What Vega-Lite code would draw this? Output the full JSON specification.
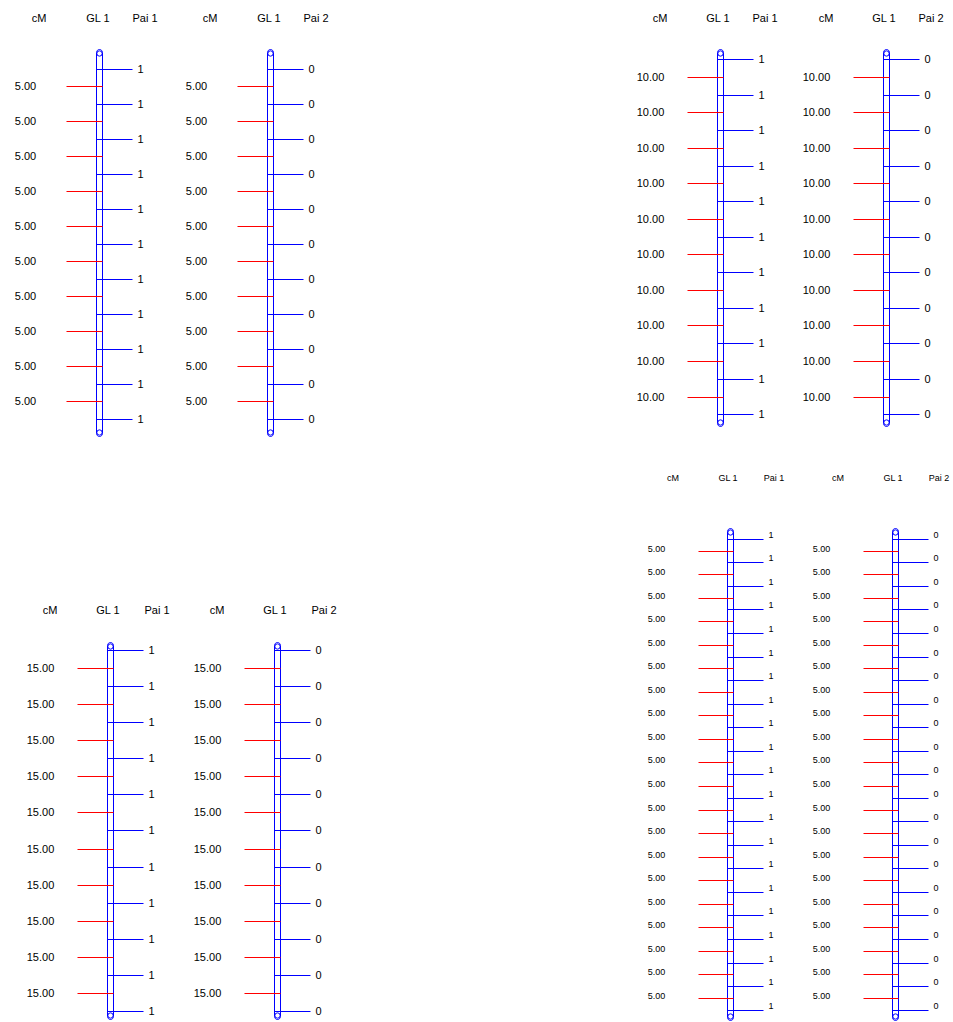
{
  "$schema": "https://vega.github.io/schema/vega-lite/v6.json",
  "background": "white",
  "padding": {"left": 0.5, "top": 12.5, "right": 0, "bottom": 0},
  "datasets": {
    "markers": [
      {"panel": "A", "pos": 0, "pai1": "1", "pai2": "0"},
      {"panel": "A", "pos": 5, "pai1": "1", "pai2": "0"},
      {"panel": "A", "pos": 10, "pai1": "1", "pai2": "0"},
      {"panel": "A", "pos": 15, "pai1": "1", "pai2": "0"},
      {"panel": "A", "pos": 20, "pai1": "1", "pai2": "0"},
      {"panel": "A", "pos": 25, "pai1": "1", "pai2": "0"},
      {"panel": "A", "pos": 30, "pai1": "1", "pai2": "0"},
      {"panel": "A", "pos": 35, "pai1": "1", "pai2": "0"},
      {"panel": "A", "pos": 40, "pai1": "1", "pai2": "0"},
      {"panel": "A", "pos": 45, "pai1": "1", "pai2": "0"},
      {"panel": "A", "pos": 50, "pai1": "1", "pai2": "0"},
      {"panel": "B", "pos": 0, "pai1": "1", "pai2": "0"},
      {"panel": "B", "pos": 10, "pai1": "1", "pai2": "0"},
      {"panel": "B", "pos": 20, "pai1": "1", "pai2": "0"},
      {"panel": "B", "pos": 30, "pai1": "1", "pai2": "0"},
      {"panel": "B", "pos": 40, "pai1": "1", "pai2": "0"},
      {"panel": "B", "pos": 50, "pai1": "1", "pai2": "0"},
      {"panel": "B", "pos": 60, "pai1": "1", "pai2": "0"},
      {"panel": "B", "pos": 70, "pai1": "1", "pai2": "0"},
      {"panel": "B", "pos": 80, "pai1": "1", "pai2": "0"},
      {"panel": "B", "pos": 90, "pai1": "1", "pai2": "0"},
      {"panel": "B", "pos": 100, "pai1": "1", "pai2": "0"},
      {"panel": "C", "pos": 0, "pai1": "1", "pai2": "0"},
      {"panel": "C", "pos": 15, "pai1": "1", "pai2": "0"},
      {"panel": "C", "pos": 30, "pai1": "1", "pai2": "0"},
      {"panel": "C", "pos": 45, "pai1": "1", "pai2": "0"},
      {"panel": "C", "pos": 60, "pai1": "1", "pai2": "0"},
      {"panel": "C", "pos": 75, "pai1": "1", "pai2": "0"},
      {"panel": "C", "pos": 90, "pai1": "1", "pai2": "0"},
      {"panel": "C", "pos": 105, "pai1": "1", "pai2": "0"},
      {"panel": "C", "pos": 120, "pai1": "1", "pai2": "0"},
      {"panel": "C", "pos": 135, "pai1": "1", "pai2": "0"},
      {"panel": "C", "pos": 150, "pai1": "1", "pai2": "0"},
      {"panel": "D", "pos": 0, "pai1": "1", "pai2": "0"},
      {"panel": "D", "pos": 5, "pai1": "1", "pai2": "0"},
      {"panel": "D", "pos": 10, "pai1": "1", "pai2": "0"},
      {"panel": "D", "pos": 15, "pai1": "1", "pai2": "0"},
      {"panel": "D", "pos": 20, "pai1": "1", "pai2": "0"},
      {"panel": "D", "pos": 25, "pai1": "1", "pai2": "0"},
      {"panel": "D", "pos": 30, "pai1": "1", "pai2": "0"},
      {"panel": "D", "pos": 35, "pai1": "1", "pai2": "0"},
      {"panel": "D", "pos": 40, "pai1": "1", "pai2": "0"},
      {"panel": "D", "pos": 45, "pai1": "1", "pai2": "0"},
      {"panel": "D", "pos": 50, "pai1": "1", "pai2": "0"},
      {"panel": "D", "pos": 55, "pai1": "1", "pai2": "0"},
      {"panel": "D", "pos": 60, "pai1": "1", "pai2": "0"},
      {"panel": "D", "pos": 65, "pai1": "1", "pai2": "0"},
      {"panel": "D", "pos": 70, "pai1": "1", "pai2": "0"},
      {"panel": "D", "pos": 75, "pai1": "1", "pai2": "0"},
      {"panel": "D", "pos": 80, "pai1": "1", "pai2": "0"},
      {"panel": "D", "pos": 85, "pai1": "1", "pai2": "0"},
      {"panel": "D", "pos": 90, "pai1": "1", "pai2": "0"},
      {"panel": "D", "pos": 95, "pai1": "1", "pai2": "0"},
      {"panel": "D", "pos": 100, "pai1": "1", "pai2": "0"}
    ],
    "intervals": [
      {"panel": "A", "at": 2.5, "length": 5},
      {"panel": "A", "at": 7.5, "length": 5},
      {"panel": "A", "at": 12.5, "length": 5},
      {"panel": "A", "at": 17.5, "length": 5},
      {"panel": "A", "at": 22.5, "length": 5},
      {"panel": "A", "at": 27.5, "length": 5},
      {"panel": "A", "at": 32.5, "length": 5},
      {"panel": "A", "at": 37.5, "length": 5},
      {"panel": "A", "at": 42.5, "length": 5},
      {"panel": "A", "at": 47.5, "length": 5},
      {"panel": "B", "at": 5, "length": 10},
      {"panel": "B", "at": 15, "length": 10},
      {"panel": "B", "at": 25, "length": 10},
      {"panel": "B", "at": 35, "length": 10},
      {"panel": "B", "at": 45, "length": 10},
      {"panel": "B", "at": 55, "length": 10},
      {"panel": "B", "at": 65, "length": 10},
      {"panel": "B", "at": 75, "length": 10},
      {"panel": "B", "at": 85, "length": 10},
      {"panel": "B", "at": 95, "length": 10},
      {"panel": "C", "at": 7.5, "length": 15},
      {"panel": "C", "at": 22.5, "length": 15},
      {"panel": "C", "at": 37.5, "length": 15},
      {"panel": "C", "at": 52.5, "length": 15},
      {"panel": "C", "at": 67.5, "length": 15},
      {"panel": "C", "at": 82.5, "length": 15},
      {"panel": "C", "at": 97.5, "length": 15},
      {"panel": "C", "at": 112.5, "length": 15},
      {"panel": "C", "at": 127.5, "length": 15},
      {"panel": "C", "at": 142.5, "length": 15},
      {"panel": "D", "at": 2.5, "length": 5},
      {"panel": "D", "at": 7.5, "length": 5},
      {"panel": "D", "at": 12.5, "length": 5},
      {"panel": "D", "at": 17.5, "length": 5},
      {"panel": "D", "at": 22.5, "length": 5},
      {"panel": "D", "at": 27.5, "length": 5},
      {"panel": "D", "at": 32.5, "length": 5},
      {"panel": "D", "at": 37.5, "length": 5},
      {"panel": "D", "at": 42.5, "length": 5},
      {"panel": "D", "at": 47.5, "length": 5},
      {"panel": "D", "at": 52.5, "length": 5},
      {"panel": "D", "at": 57.5, "length": 5},
      {"panel": "D", "at": 62.5, "length": 5},
      {"panel": "D", "at": 67.5, "length": 5},
      {"panel": "D", "at": 72.5, "length": 5},
      {"panel": "D", "at": 77.5, "length": 5},
      {"panel": "D", "at": 82.5, "length": 5},
      {"panel": "D", "at": 87.5, "length": 5},
      {"panel": "D", "at": 92.5, "length": 5},
      {"panel": "D", "at": 97.5, "length": 5}
    ],
    "chromosomes": [
      {"panel": "A", "start": -2.85, "end": 52.43},
      {"panel": "B", "start": -2.81, "end": 103.3},
      {"panel": "C", "start": -3.3, "end": 153.3},
      {"panel": "D", "start": -2.3, "end": 102.2}
    ]
  },
  "spacing": 273,
  "hconcat": [
    {
      "spacing": 167,
      "vconcat": [
        {
          "bounds": "flush",
          "spacing": 23,
          "hconcat": [
            {
              "width": 159, "height": 387,
              "layer": [
                {"data": {"name": "chromosomes"}, "transform": [{"filter": "datum.panel == 'A'"}],
                 "mark": {"type": "rect", "filled": false, "color": "#0000ff", "strokeWidth": 1, "cornerRadius": 3},
                 "encoding": {
                   "x": {"datum": -3, "type": "quantitative", "scale": {"domain": [-99, 60], "nice": false, "zero": false, "round": true},
                         "axis": {"orient": "top", "values": [-61, -2, 45], "labelExpr": "datum.value < -30 ? 'cM' : datum.value < 20 ? 'GL 1' : 'Pai 1'", "labelPadding": 28, "labelFontSize": 11, "title": null}},
                   "x2": {"datum": 3},
                   "y": {"field": "start", "type": "quantitative", "scale": {"zero": false, "nice": false, "reverse": true, "round": true}, "axis": null},
                   "y2": {"field": "end"}}},
                {"data": {"name": "chromosomes"}, "transform": [{"filter": "datum.panel == 'A'"}],
                 "mark": {"type": "point", "shape": "circle", "filled": false, "size": 28, "color": "#0000ff", "strokeWidth": 1, "opacity": 1, "yOffset": 4},
                 "encoding": {"x": {"datum": 0, "type": "quantitative"}, "y": {"field": "start", "type": "quantitative", "axis": null}}},
                {"data": {"name": "chromosomes"}, "transform": [{"filter": "datum.panel == 'A'"}],
                 "mark": {"type": "point", "shape": "circle", "filled": false, "size": 28, "color": "#0000ff", "strokeWidth": 1, "opacity": 1, "yOffset": -4},
                 "encoding": {"x": {"datum": 0, "type": "quantitative"}, "y": {"field": "end", "type": "quantitative", "axis": null}}},
                {"data": {"name": "intervals"}, "transform": [{"filter": "datum.panel == 'A'"}],
                 "mark": {"type": "rule", "color": "#ff0000", "strokeWidth": 1},
                 "encoding": {"x": {"datum": -33, "type": "quantitative"}, "x2": {"datum": 3}, "y": {"field": "at", "type": "quantitative", "axis": null}}},
                {"data": {"name": "intervals"}, "transform": [{"filter": "datum.panel == 'A'"}],
                 "mark": {"type": "text", "align": "center", "baseline": "middle", "fontSize": 11},
                 "encoding": {"x": {"datum": -74, "type": "quantitative"}, "y": {"field": "at", "type": "quantitative", "axis": null}, "text": {"field": "length", "type": "quantitative", "format": ".2f"}}},
                {"data": {"name": "markers"}, "transform": [{"filter": "datum.panel == 'A'"}],
                 "mark": {"type": "rule", "color": "#0000ff", "strokeWidth": 1},
                 "encoding": {"x": {"datum": -3, "type": "quantitative"}, "x2": {"datum": 33}, "y": {"field": "pos", "type": "quantitative", "axis": null}}},
                {"data": {"name": "markers"}, "transform": [{"filter": "datum.panel == 'A'"}],
                 "mark": {"type": "text", "align": "left", "baseline": "middle", "fontSize": 11},
                 "encoding": {"x": {"datum": 38, "type": "quantitative"}, "y": {"field": "pos", "type": "quantitative", "axis": null}, "text": {"field": "pai1", "type": "nominal"}}}
              ]
            },
            {
              "width": 148, "height": 387,
              "layer": [
                {"data": {"name": "chromosomes"}, "transform": [{"filter": "datum.panel == 'A'"}],
                 "mark": {"type": "rect", "filled": false, "color": "#0000ff", "strokeWidth": 1, "cornerRadius": 3},
                 "encoding": {
                   "x": {"datum": -3, "type": "quantitative", "scale": {"domain": [-88, 60], "nice": false, "zero": false, "round": true},
                         "axis": {"orient": "top", "values": [-61, -2, 45], "labelExpr": "datum.value < -30 ? 'cM' : datum.value < 20 ? 'GL 1' : 'Pai 2'", "labelPadding": 28, "labelFontSize": 11, "title": null}},
                   "x2": {"datum": 3},
                   "y": {"field": "start", "type": "quantitative", "scale": {"zero": false, "nice": false, "reverse": true, "round": true}, "axis": null},
                   "y2": {"field": "end"}}},
                {"data": {"name": "chromosomes"}, "transform": [{"filter": "datum.panel == 'A'"}],
                 "mark": {"type": "point", "shape": "circle", "filled": false, "size": 28, "color": "#0000ff", "strokeWidth": 1, "opacity": 1, "yOffset": 4},
                 "encoding": {"x": {"datum": 0, "type": "quantitative"}, "y": {"field": "start", "type": "quantitative", "axis": null}}},
                {"data": {"name": "chromosomes"}, "transform": [{"filter": "datum.panel == 'A'"}],
                 "mark": {"type": "point", "shape": "circle", "filled": false, "size": 28, "color": "#0000ff", "strokeWidth": 1, "opacity": 1, "yOffset": -4},
                 "encoding": {"x": {"datum": 0, "type": "quantitative"}, "y": {"field": "end", "type": "quantitative", "axis": null}}},
                {"data": {"name": "intervals"}, "transform": [{"filter": "datum.panel == 'A'"}],
                 "mark": {"type": "rule", "color": "#ff0000", "strokeWidth": 1},
                 "encoding": {"x": {"datum": -33, "type": "quantitative"}, "x2": {"datum": 3}, "y": {"field": "at", "type": "quantitative", "axis": null}}},
                {"data": {"name": "intervals"}, "transform": [{"filter": "datum.panel == 'A'"}],
                 "mark": {"type": "text", "align": "center", "baseline": "middle", "fontSize": 11},
                 "encoding": {"x": {"datum": -74, "type": "quantitative"}, "y": {"field": "at", "type": "quantitative", "axis": null}, "text": {"field": "length", "type": "quantitative", "format": ".2f"}}},
                {"data": {"name": "markers"}, "transform": [{"filter": "datum.panel == 'A'"}],
                 "mark": {"type": "rule", "color": "#0000ff", "strokeWidth": 1},
                 "encoding": {"x": {"datum": -3, "type": "quantitative"}, "x2": {"datum": 33}, "y": {"field": "pos", "type": "quantitative", "axis": null}}},
                {"data": {"name": "markers"}, "transform": [{"filter": "datum.panel == 'A'"}],
                 "mark": {"type": "text", "align": "left", "baseline": "middle", "fontSize": 11},
                 "encoding": {"x": {"datum": 38, "type": "quantitative"}, "y": {"field": "pos", "type": "quantitative", "axis": null}, "text": {"field": "pai2", "type": "nominal"}}}
              ]
            }
          ]
        },
        {
          "bounds": "flush",
          "spacing": 19,
          "hconcat": [
            {
              "width": 170, "height": 377,
              "layer": [
                {"data": {"name": "chromosomes"}, "transform": [{"filter": "datum.panel == 'C'"}],
                 "mark": {"type": "rect", "filled": false, "color": "#0000ff", "strokeWidth": 1, "cornerRadius": 3},
                 "encoding": {
                   "x": {"datum": -3, "type": "quantitative", "scale": {"domain": [-110, 60], "nice": false, "zero": false, "round": true},
                         "axis": {"orient": "top", "values": [-61, -3, 46], "labelExpr": "datum.value < -30 ? 'cM' : datum.value < 20 ? 'GL 1' : 'Pai 1'", "labelPadding": 29, "labelFontSize": 11, "title": null}},
                   "x2": {"datum": 3},
                   "y": {"field": "start", "type": "quantitative", "scale": {"zero": false, "nice": false, "reverse": true, "round": true}, "axis": null},
                   "y2": {"field": "end"}}},
                {"data": {"name": "chromosomes"}, "transform": [{"filter": "datum.panel == 'C'"}],
                 "mark": {"type": "point", "shape": "circle", "filled": false, "size": 28, "color": "#0000ff", "strokeWidth": 1, "opacity": 1, "yOffset": 4},
                 "encoding": {"x": {"datum": 0, "type": "quantitative"}, "y": {"field": "start", "type": "quantitative", "axis": null}}},
                {"data": {"name": "chromosomes"}, "transform": [{"filter": "datum.panel == 'C'"}],
                 "mark": {"type": "point", "shape": "circle", "filled": false, "size": 28, "color": "#0000ff", "strokeWidth": 1, "opacity": 1, "yOffset": -4},
                 "encoding": {"x": {"datum": 0, "type": "quantitative"}, "y": {"field": "end", "type": "quantitative", "axis": null}}},
                {"data": {"name": "intervals"}, "transform": [{"filter": "datum.panel == 'C'"}],
                 "mark": {"type": "rule", "color": "#ff0000", "strokeWidth": 1},
                 "encoding": {"x": {"datum": -33, "type": "quantitative"}, "x2": {"datum": 3}, "y": {"field": "at", "type": "quantitative", "axis": null}}},
                {"data": {"name": "intervals"}, "transform": [{"filter": "datum.panel == 'C'"}],
                 "mark": {"type": "text", "align": "center", "baseline": "middle", "fontSize": 11},
                 "encoding": {"x": {"datum": -70, "type": "quantitative"}, "y": {"field": "at", "type": "quantitative", "axis": null}, "text": {"field": "length", "type": "quantitative", "format": ".2f"}}},
                {"data": {"name": "markers"}, "transform": [{"filter": "datum.panel == 'C'"}],
                 "mark": {"type": "rule", "color": "#0000ff", "strokeWidth": 1},
                 "encoding": {"x": {"datum": -3, "type": "quantitative"}, "x2": {"datum": 33}, "y": {"field": "pos", "type": "quantitative", "axis": null}}},
                {"data": {"name": "markers"}, "transform": [{"filter": "datum.panel == 'C'"}],
                 "mark": {"type": "text", "align": "left", "baseline": "middle", "fontSize": 11},
                 "encoding": {"x": {"datum": 38, "type": "quantitative"}, "y": {"field": "pos", "type": "quantitative", "axis": null}, "text": {"field": "pai1", "type": "nominal"}}}
              ]
            },
            {
              "width": 148, "height": 377,
              "layer": [
                {"data": {"name": "chromosomes"}, "transform": [{"filter": "datum.panel == 'C'"}],
                 "mark": {"type": "rect", "filled": false, "color": "#0000ff", "strokeWidth": 1, "cornerRadius": 3},
                 "encoding": {
                   "x": {"datum": -3, "type": "quantitative", "scale": {"domain": [-88, 60], "nice": false, "zero": false, "round": true},
                         "axis": {"orient": "top", "values": [-61, -3, 46], "labelExpr": "datum.value < -30 ? 'cM' : datum.value < 20 ? 'GL 1' : 'Pai 2'", "labelPadding": 29, "labelFontSize": 11, "title": null}},
                   "x2": {"datum": 3},
                   "y": {"field": "start", "type": "quantitative", "scale": {"zero": false, "nice": false, "reverse": true, "round": true}, "axis": null},
                   "y2": {"field": "end"}}},
                {"data": {"name": "chromosomes"}, "transform": [{"filter": "datum.panel == 'C'"}],
                 "mark": {"type": "point", "shape": "circle", "filled": false, "size": 28, "color": "#0000ff", "strokeWidth": 1, "opacity": 1, "yOffset": 4},
                 "encoding": {"x": {"datum": 0, "type": "quantitative"}, "y": {"field": "start", "type": "quantitative", "axis": null}}},
                {"data": {"name": "chromosomes"}, "transform": [{"filter": "datum.panel == 'C'"}],
                 "mark": {"type": "point", "shape": "circle", "filled": false, "size": 28, "color": "#0000ff", "strokeWidth": 1, "opacity": 1, "yOffset": -4},
                 "encoding": {"x": {"datum": 0, "type": "quantitative"}, "y": {"field": "end", "type": "quantitative", "axis": null}}},
                {"data": {"name": "intervals"}, "transform": [{"filter": "datum.panel == 'C'"}],
                 "mark": {"type": "rule", "color": "#ff0000", "strokeWidth": 1},
                 "encoding": {"x": {"datum": -33, "type": "quantitative"}, "x2": {"datum": 3}, "y": {"field": "at", "type": "quantitative", "axis": null}}},
                {"data": {"name": "intervals"}, "transform": [{"filter": "datum.panel == 'C'"}],
                 "mark": {"type": "text", "align": "center", "baseline": "middle", "fontSize": 11},
                 "encoding": {"x": {"datum": -70, "type": "quantitative"}, "y": {"field": "at", "type": "quantitative", "axis": null}, "text": {"field": "length", "type": "quantitative", "format": ".2f"}}},
                {"data": {"name": "markers"}, "transform": [{"filter": "datum.panel == 'C'"}],
                 "mark": {"type": "rule", "color": "#0000ff", "strokeWidth": 1},
                 "encoding": {"x": {"datum": -3, "type": "quantitative"}, "x2": {"datum": 33}, "y": {"field": "pos", "type": "quantitative", "axis": null}}},
                {"data": {"name": "markers"}, "transform": [{"filter": "datum.panel == 'C'"}],
                 "mark": {"type": "text", "align": "left", "baseline": "middle", "fontSize": 11},
                 "encoding": {"x": {"datum": 38, "type": "quantitative"}, "y": {"field": "pos", "type": "quantitative", "axis": null}, "text": {"field": "pai2", "type": "nominal"}}}
              ]
            }
          ]
        }
      ]
    },
    {
      "spacing": 46,
      "vconcat": [
        {
          "bounds": "flush",
          "spacing": 18,
          "hconcat": [
            {
              "width": 170, "height": 377,
              "layer": [
                {"data": {"name": "chromosomes"}, "transform": [{"filter": "datum.panel == 'B'"}],
                 "mark": {"type": "rect", "filled": false, "color": "#0000ff", "strokeWidth": 1, "cornerRadius": 3},
                 "encoding": {
                   "x": {"datum": -3, "type": "quantitative", "scale": {"domain": [-110, 60], "nice": false, "zero": false, "round": true},
                         "axis": {"orient": "top", "values": [-61, -3, 44], "labelExpr": "datum.value < -30 ? 'cM' : datum.value < 20 ? 'GL 1' : 'Pai 1'", "labelPadding": 28, "labelFontSize": 11, "title": null}},
                   "x2": {"datum": 3},
                   "y": {"field": "start", "type": "quantitative", "scale": {"zero": false, "nice": false, "reverse": true, "round": true}, "axis": null},
                   "y2": {"field": "end"}}},
                {"data": {"name": "chromosomes"}, "transform": [{"filter": "datum.panel == 'B'"}],
                 "mark": {"type": "point", "shape": "circle", "filled": false, "size": 28, "color": "#0000ff", "strokeWidth": 1, "opacity": 1, "yOffset": 4},
                 "encoding": {"x": {"datum": 0, "type": "quantitative"}, "y": {"field": "start", "type": "quantitative", "axis": null}}},
                {"data": {"name": "chromosomes"}, "transform": [{"filter": "datum.panel == 'B'"}],
                 "mark": {"type": "point", "shape": "circle", "filled": false, "size": 28, "color": "#0000ff", "strokeWidth": 1, "opacity": 1, "yOffset": -4},
                 "encoding": {"x": {"datum": 0, "type": "quantitative"}, "y": {"field": "end", "type": "quantitative", "axis": null}}},
                {"data": {"name": "intervals"}, "transform": [{"filter": "datum.panel == 'B'"}],
                 "mark": {"type": "rule", "color": "#ff0000", "strokeWidth": 1},
                 "encoding": {"x": {"datum": -33, "type": "quantitative"}, "x2": {"datum": 3}, "y": {"field": "at", "type": "quantitative", "axis": null}}},
                {"data": {"name": "intervals"}, "transform": [{"filter": "datum.panel == 'B'"}],
                 "mark": {"type": "text", "align": "center", "baseline": "middle", "fontSize": 11},
                 "encoding": {"x": {"datum": -70, "type": "quantitative"}, "y": {"field": "at", "type": "quantitative", "axis": null}, "text": {"field": "length", "type": "quantitative", "format": ".2f"}}},
                {"data": {"name": "markers"}, "transform": [{"filter": "datum.panel == 'B'"}],
                 "mark": {"type": "rule", "color": "#0000ff", "strokeWidth": 1},
                 "encoding": {"x": {"datum": -3, "type": "quantitative"}, "x2": {"datum": 33}, "y": {"field": "pos", "type": "quantitative", "axis": null}}},
                {"data": {"name": "markers"}, "transform": [{"filter": "datum.panel == 'B'"}],
                 "mark": {"type": "text", "align": "left", "baseline": "middle", "fontSize": 11},
                 "encoding": {"x": {"datum": 38, "type": "quantitative"}, "y": {"field": "pos", "type": "quantitative", "axis": null}, "text": {"field": "pai1", "type": "nominal"}}}
              ]
            },
            {
              "width": 148, "height": 377,
              "layer": [
                {"data": {"name": "chromosomes"}, "transform": [{"filter": "datum.panel == 'B'"}],
                 "mark": {"type": "rect", "filled": false, "color": "#0000ff", "strokeWidth": 1, "cornerRadius": 3},
                 "encoding": {
                   "x": {"datum": -3, "type": "quantitative", "scale": {"domain": [-88, 60], "nice": false, "zero": false, "round": true},
                         "axis": {"orient": "top", "values": [-61, -3, 44], "labelExpr": "datum.value < -30 ? 'cM' : datum.value < 20 ? 'GL 1' : 'Pai 2'", "labelPadding": 28, "labelFontSize": 11, "title": null}},
                   "x2": {"datum": 3},
                   "y": {"field": "start", "type": "quantitative", "scale": {"zero": false, "nice": false, "reverse": true, "round": true}, "axis": null},
                   "y2": {"field": "end"}}},
                {"data": {"name": "chromosomes"}, "transform": [{"filter": "datum.panel == 'B'"}],
                 "mark": {"type": "point", "shape": "circle", "filled": false, "size": 28, "color": "#0000ff", "strokeWidth": 1, "opacity": 1, "yOffset": 4},
                 "encoding": {"x": {"datum": 0, "type": "quantitative"}, "y": {"field": "start", "type": "quantitative", "axis": null}}},
                {"data": {"name": "chromosomes"}, "transform": [{"filter": "datum.panel == 'B'"}],
                 "mark": {"type": "point", "shape": "circle", "filled": false, "size": 28, "color": "#0000ff", "strokeWidth": 1, "opacity": 1, "yOffset": -4},
                 "encoding": {"x": {"datum": 0, "type": "quantitative"}, "y": {"field": "end", "type": "quantitative", "axis": null}}},
                {"data": {"name": "intervals"}, "transform": [{"filter": "datum.panel == 'B'"}],
                 "mark": {"type": "rule", "color": "#ff0000", "strokeWidth": 1},
                 "encoding": {"x": {"datum": -33, "type": "quantitative"}, "x2": {"datum": 3}, "y": {"field": "at", "type": "quantitative", "axis": null}}},
                {"data": {"name": "intervals"}, "transform": [{"filter": "datum.panel == 'B'"}],
                 "mark": {"type": "text", "align": "center", "baseline": "middle", "fontSize": 11},
                 "encoding": {"x": {"datum": -70, "type": "quantitative"}, "y": {"field": "at", "type": "quantitative", "axis": null}, "text": {"field": "length", "type": "quantitative", "format": ".2f"}}},
                {"data": {"name": "markers"}, "transform": [{"filter": "datum.panel == 'B'"}],
                 "mark": {"type": "rule", "color": "#0000ff", "strokeWidth": 1},
                 "encoding": {"x": {"datum": -3, "type": "quantitative"}, "x2": {"datum": 33}, "y": {"field": "pos", "type": "quantitative", "axis": null}}},
                {"data": {"name": "markers"}, "transform": [{"filter": "datum.panel == 'B'"}],
                 "mark": {"type": "text", "align": "left", "baseline": "middle", "fontSize": 11},
                 "encoding": {"x": {"datum": 38, "type": "quantitative"}, "y": {"field": "pos", "type": "quantitative", "axis": null}, "text": {"field": "pai2", "type": "nominal"}}}
              ]
            }
          ]
        },
        {
          "bounds": "flush",
          "spacing": 17,
          "hconcat": [
            {
              "width": 180, "height": 492,
              "layer": [
                {"data": {"name": "chromosomes"}, "transform": [{"filter": "datum.panel == 'D'"}],
                 "mark": {"type": "rect", "filled": false, "color": "#0000ff", "strokeWidth": 1, "cornerRadius": 3},
                 "encoding": {
                   "x": {"datum": -3, "type": "quantitative", "scale": {"domain": [-120, 60], "nice": false, "zero": false, "round": true},
                         "axis": {"orient": "top", "values": [-58, -3, 43], "labelExpr": "datum.value < -30 ? 'cM' : datum.value < 20 ? 'GL 1' : 'Pai 1'", "labelPadding": 48, "labelFontSize": 9, "title": null}},
                   "x2": {"datum": 3},
                   "y": {"field": "start", "type": "quantitative", "scale": {"zero": false, "nice": false, "reverse": true, "round": true}, "axis": null},
                   "y2": {"field": "end"}}},
                {"data": {"name": "chromosomes"}, "transform": [{"filter": "datum.panel == 'D'"}],
                 "mark": {"type": "point", "shape": "circle", "filled": false, "size": 28, "color": "#0000ff", "strokeWidth": 1, "opacity": 1, "yOffset": 4},
                 "encoding": {"x": {"datum": 0, "type": "quantitative"}, "y": {"field": "start", "type": "quantitative", "axis": null}}},
                {"data": {"name": "chromosomes"}, "transform": [{"filter": "datum.panel == 'D'"}],
                 "mark": {"type": "point", "shape": "circle", "filled": false, "size": 28, "color": "#0000ff", "strokeWidth": 1, "opacity": 1, "yOffset": -4},
                 "encoding": {"x": {"datum": 0, "type": "quantitative"}, "y": {"field": "end", "type": "quantitative", "axis": null}}},
                {"data": {"name": "intervals"}, "transform": [{"filter": "datum.panel == 'D'"}],
                 "mark": {"type": "rule", "color": "#ff0000", "strokeWidth": 1},
                 "encoding": {"x": {"datum": -32, "type": "quantitative"}, "x2": {"datum": 3}, "y": {"field": "at", "type": "quantitative", "axis": null}}},
                {"data": {"name": "intervals"}, "transform": [{"filter": "datum.panel == 'D'"}],
                 "mark": {"type": "text", "align": "center", "baseline": "middle", "fontSize": 9, "dy": -3},
                 "encoding": {"x": {"datum": -74, "type": "quantitative"}, "y": {"field": "at", "type": "quantitative", "axis": null}, "text": {"field": "length", "type": "quantitative", "format": ".2f"}}},
                {"data": {"name": "markers"}, "transform": [{"filter": "datum.panel == 'D'"}],
                 "mark": {"type": "rule", "color": "#0000ff", "strokeWidth": 1},
                 "encoding": {"x": {"datum": -3, "type": "quantitative"}, "x2": {"datum": 33}, "y": {"field": "pos", "type": "quantitative", "axis": null}}},
                {"data": {"name": "markers"}, "transform": [{"filter": "datum.panel == 'D'"}],
                 "mark": {"type": "text", "align": "left", "baseline": "middle", "fontSize": 9, "dy": -5},
                 "encoding": {"x": {"datum": 38, "type": "quantitative"}, "y": {"field": "pos", "type": "quantitative", "axis": null}, "text": {"field": "pai1", "type": "nominal"}}}
              ]
            },
            {
              "width": 140, "height": 492,
              "layer": [
                {"data": {"name": "chromosomes"}, "transform": [{"filter": "datum.panel == 'D'"}],
                 "mark": {"type": "rect", "filled": false, "color": "#0000ff", "strokeWidth": 1, "cornerRadius": 3},
                 "encoding": {
                   "x": {"datum": -3, "type": "quantitative", "scale": {"domain": [-88, 52], "nice": false, "zero": false, "round": true},
                         "axis": {"orient": "top", "values": [-58, -3, 43], "labelExpr": "datum.value < -30 ? 'cM' : datum.value < 20 ? 'GL 1' : 'Pai 2'", "labelPadding": 48, "labelFontSize": 9, "title": null}},
                   "x2": {"datum": 3},
                   "y": {"field": "start", "type": "quantitative", "scale": {"zero": false, "nice": false, "reverse": true, "round": true}, "axis": null},
                   "y2": {"field": "end"}}},
                {"data": {"name": "chromosomes"}, "transform": [{"filter": "datum.panel == 'D'"}],
                 "mark": {"type": "point", "shape": "circle", "filled": false, "size": 28, "color": "#0000ff", "strokeWidth": 1, "opacity": 1, "yOffset": 4},
                 "encoding": {"x": {"datum": 0, "type": "quantitative"}, "y": {"field": "start", "type": "quantitative", "axis": null}}},
                {"data": {"name": "chromosomes"}, "transform": [{"filter": "datum.panel == 'D'"}],
                 "mark": {"type": "point", "shape": "circle", "filled": false, "size": 28, "color": "#0000ff", "strokeWidth": 1, "opacity": 1, "yOffset": -4},
                 "encoding": {"x": {"datum": 0, "type": "quantitative"}, "y": {"field": "end", "type": "quantitative", "axis": null}}},
                {"data": {"name": "intervals"}, "transform": [{"filter": "datum.panel == 'D'"}],
                 "mark": {"type": "rule", "color": "#ff0000", "strokeWidth": 1},
                 "encoding": {"x": {"datum": -32, "type": "quantitative"}, "x2": {"datum": 3}, "y": {"field": "at", "type": "quantitative", "axis": null}}},
                {"data": {"name": "intervals"}, "transform": [{"filter": "datum.panel == 'D'"}],
                 "mark": {"type": "text", "align": "center", "baseline": "middle", "fontSize": 9, "dy": -3},
                 "encoding": {"x": {"datum": -74, "type": "quantitative"}, "y": {"field": "at", "type": "quantitative", "axis": null}, "text": {"field": "length", "type": "quantitative", "format": ".2f"}}},
                {"data": {"name": "markers"}, "transform": [{"filter": "datum.panel == 'D'"}],
                 "mark": {"type": "rule", "color": "#0000ff", "strokeWidth": 1},
                 "encoding": {"x": {"datum": -3, "type": "quantitative"}, "x2": {"datum": 33}, "y": {"field": "pos", "type": "quantitative", "axis": null}}},
                {"data": {"name": "markers"}, "transform": [{"filter": "datum.panel == 'D'"}],
                 "mark": {"type": "text", "align": "left", "baseline": "middle", "fontSize": 9, "dy": -5},
                 "encoding": {"x": {"datum": 38, "type": "quantitative"}, "y": {"field": "pos", "type": "quantitative", "axis": null}, "text": {"field": "pai2", "type": "nominal"}}}
              ]
            }
          ]
        }
      ]
    }
  ],
  "config": {
    "view": {"stroke": null},
    "font": "Liberation Sans",
    "axis": {"domain": false, "ticks": false, "tickSize": 0, "grid": false, "labelFont": "Liberation Sans", "labelColor": "#000000", "labelBaseline": "alphabetic", "labelAngle": 0, "labelFlush": false, "labelOverlap": false},
    "text": {"font": "Liberation Sans", "color": "#000000"}
  }
}
